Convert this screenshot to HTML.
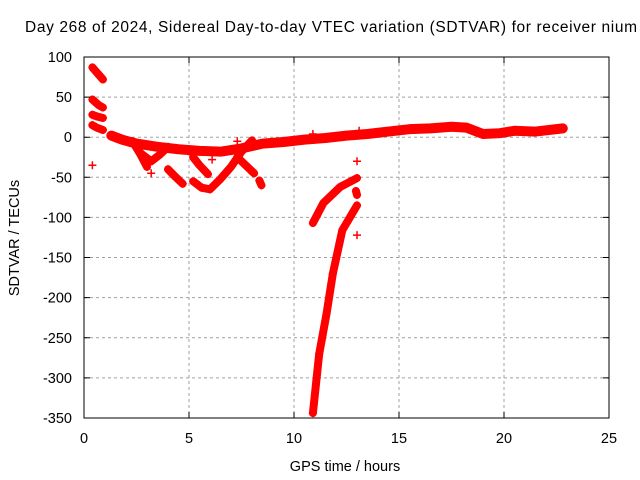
<!DOCTYPE html>
<html><head><meta charset="utf-8"><style>
html,body{margin:0;padding:0;background:#fff}
svg{display:block;font-family:"Liberation Sans",sans-serif}
</style></head><body>
<svg id="chart" width="640" height="480" viewBox="0 0 640 480" xmlns="http://www.w3.org/2000/svg">
<text x="25" y="32" font-size="15.5" textLength="612" lengthAdjust="spacing">Day 268 of 2024, Sidereal Day-to-day VTEC variation (SDTVAR) for receiver nium</text>
<g id="grid"></g>
<g id="marks"></g>
<rect x="84" y="57" width="525" height="361" fill="none" stroke="#000" stroke-width="1"/>
<g id="axes"></g>
<text x="345" y="471" font-size="14.5" text-anchor="middle">GPS time / hours</text>
<text transform="translate(19,238) rotate(-90)" font-size="14.5" text-anchor="middle">SDTVAR / TECUs</text>
</svg>
<script>
const xTicks=[0,5,10,15,20,25];
const yTicks=[100,50,0,-50,-100,-150,-200,-250,-300,-350];
const tracks=[
[[0.4,87],[0.6,81],[0.9,72]],
[[0.4,47],[0.7,40],[0.9,37]],
[[0.4,28],[0.6,26],[0.9,24]],
[[0.4,15],[0.6,12],[0.9,9]],
[[1.3,2],[1.8,-3],[2.5,-8],[3.5,-12],[4.5,-15],[5.5,-17],[6.5,-18],[7.5,-14],[8.5,-8],[9.5,-6],[10.5,-3],[11.5,-1],[12.5,2],[13.5,4],[14.5,7],[15.5,10],[16.5,11],[17.5,13],[18.2,12],[19,4],[19.8,5],[20.5,8],[21.5,7],[22.8,11]],
[[2.3,-5],[2.7,-20],[3.2,-30],[3.6,-22],[4,-12]],
[[2.4,-9],[2.7,-22],[3.0,-37]],
[[4.0,-40],[4.3,-48],[4.7,-58]],
[[5.2,-25],[5.5,-35],[5.9,-46]],
[[5.2,-55],[5.6,-63],[6.0,-65],[6.5,-52],[7.0,-37],[7.5,-18],[8.0,-4]],
[[7.3,-25],[7.7,-35],[8.1,-45]],
[[8.35,-54],[8.45,-60]],
[[10.9,-107],[11.4,-82],[12.2,-62],[13.0,-51]],
[[10.9,-344],[11.2,-270],[11.55,-220],[11.85,-170],[12.3,-116],[13.0,-85]],
[[12.95,-67],[13.0,-72]]
];
const outliers=[[0.4,-35],[3.2,-45],[6.1,-28],[13.0,-30],[13.0,-122],[13.1,8],[10.9,4],[7.3,-5]];
const X=v=>84+v*21, Y=v=>137.2-v*0.8022;
const NS='http://www.w3.org/2000/svg';
const g=document.getElementById('grid'),ax=document.getElementById('axes'),m=document.getElementById('marks');
function el(t,a,p){const e=document.createElementNS(NS,t);for(const k in a)e.setAttribute(k,a[k]);p.appendChild(e);return e;}
xTicks.forEach(t=>{
 if(t>0&&t<25){const l=el('line',{x1:X(t),x2:X(t),y1:57,y2:418,stroke:'#a0a0a0','stroke-dasharray':'3,3'},g);
 }
 const tk=el('path',{d:`M${X(t)},418v-6M${X(t)},57v6`,stroke:'#000'},ax);
 
 const tx=el('text',{x:X(t),y:443,'font-size':'14.5','text-anchor':'middle'},ax);tx.textContent=t;
 
});
yTicks.forEach(t=>{
 if(t<100&&t>-350){const l=el('line',{x1:84,x2:609,y1:Y(t),y2:Y(t),stroke:'#a0a0a0','stroke-dasharray':'3,3'},g);
 }
 const tk=el('path',{d:`M84,${Y(t)}h6M609,${Y(t)}h-6`,stroke:'#000'},ax);
 
 const tx=el('text',{x:72,y:Y(t)+5,'font-size':'14.5','text-anchor':'end'},ax);tx.textContent=t;
 
});
function plus(x,y){const p=el('path',{d:`M${X(x)-4},${Y(y)}h8M${X(x)},${Y(y)-4}v8`,stroke:'#f00','stroke-width':'1.5'},m);
 }
tracks.forEach((tr,i)=>{
 const pl=el('polyline',{points:tr.map(p=>X(p[0])+','+Y(p[1])).join(' '),fill:'none',stroke:'#f00','stroke-width':i==4?'10':'8','stroke-linejoin':'round','stroke-linecap':'round'},m);
 
 tr.forEach(p=>plus(p[0],p[1]));
});
outliers.forEach(p=>plus(p[0],p[1]));
</script>
</body></html>
